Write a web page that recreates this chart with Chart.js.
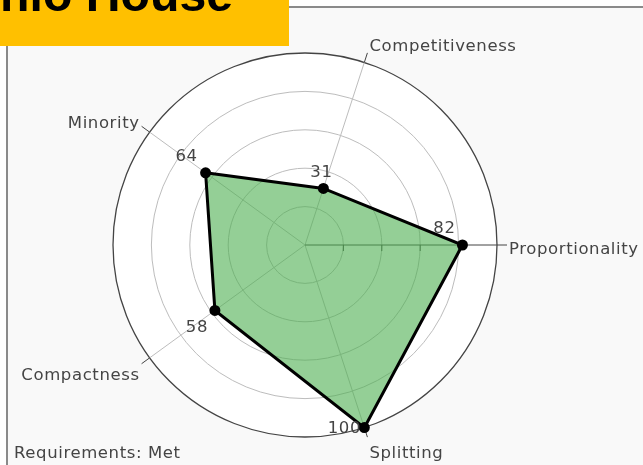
<!DOCTYPE html>
<html>
<head>
<meta charset="utf-8">
<script src="https://cdn.jsdelivr.net/npm/chart.js@4"></script>
<style>
  html, body { margin: 0; padding: 0; background: #fff; }
  #wrap { width: 643px; height: 465px; }
</style>
</head>
<body>
<div id="wrap"><canvas id="myChart" width="643" height="465"></canvas></div>
<script>
// categories listed clockwise, starting from the right-hand axis
const categories = ['Proportionality', 'Splitting', 'Compactness', 'Minority', 'Competitiveness'];
const scores = [82, 100, 58, 64, 31];
const radialTicks = [20, 40, 60, 80];
const titleText = 'Ohio House';
const footerText = 'Requirements: Met';

// where each value label sits next to its point (px)
const valueLabelShift = [[-18, -16], [-20, 1], [-18, 17], [-19, -16], [-2, -16]];

const textColor = '#444';
const labelFont = '16.5px "DejaVu Sans"';

const radarDecor = {
  id: 'radarDecor',
  beforeDraw(chart) {
    const ctx = chart.ctx;
    const r = chart.scales.r;
    ctx.save();
    // frame
    ctx.fillStyle = '#f9f9f9';
    ctx.fillRect(7, 7, chart.width - 7, chart.height - 7);
    ctx.strokeStyle = '#8a8a8a';
    ctx.lineWidth = 2;
    ctx.beginPath();
    ctx.moveTo(7, chart.height);
    ctx.lineTo(7, 7);
    ctx.lineTo(chart.width, 7);
    ctx.stroke();
    // white polar background
    ctx.fillStyle = '#fff';
    ctx.beginPath();
    ctx.arc(r.xCenter, r.yCenter, r.drawingArea, 0, Math.PI * 2);
    ctx.fill();
    ctx.restore();
  },
  beforeDatasetsDraw(chart) {
    const ctx = chart.ctx;
    const r = chart.scales.r;
    ctx.save();
    ctx.strokeStyle = '#444';
    ctx.lineWidth = 1;
    // ticks on the radial axis
    radialTicks.forEach((v) => {
      const p = r.getPointPositionForValue(0, v);
      ctx.beginPath();
      ctx.moveTo(p.x, p.y);
      ctx.lineTo(p.x, p.y + 6);
      ctx.stroke();
    });
    // angular ticks across the outer circle
    categories.forEach((c, i) => {
      const a = r.getPointPosition(i, r.drawingArea);
      const b = r.getPointPosition(i, r.drawingArea + 10);
      ctx.beginPath();
      ctx.moveTo(a.x, a.y);
      ctx.lineTo(b.x, b.y);
      ctx.stroke();
    });
    ctx.restore();
  },
  afterDatasetsDraw(chart) {
    const ctx = chart.ctx;
    const r = chart.scales.r;
    ctx.save();
    ctx.fillStyle = textColor;
    ctx.font = labelFont;
    ctx.letterSpacing = '0.6px';

    // value labels
    ctx.textAlign = 'center';
    ctx.textBaseline = 'middle';
    scores.forEach((v, i) => {
      const p = r.getPointPositionForValue(i, v);
      ctx.fillText(String(v), p.x + valueLabelShift[i][0], p.y + valueLabelShift[i][1]);
    });

    // category labels
    categories.forEach((c, i) => {
      const p = r.getPointPosition(i, r.drawingArea + 10);
      const ang = Math.atan2(r.yCenter - p.y, p.x - r.xCenter);
      const cs = Math.cos(ang), sn = Math.sin(ang);
      let dx = 0;
      if (cs > 0.2) { ctx.textAlign = 'left'; dx = 2; }
      else if (cs < -0.2) { ctx.textAlign = 'right'; dx = -2; }
      else ctx.textAlign = 'center';
      ctx.fillText(c, p.x + dx, p.y - sn * 12 + 5);
    });

    // footer
    ctx.textAlign = 'left';
    ctx.fillText(footerText, 14, 454);

    // title badge
    ctx.letterSpacing = '0px';
    ctx.fillStyle = '#ffc000';
    ctx.fillRect(0, 0, 289, 46);
    ctx.fillStyle = '#000';
    ctx.font = 'bold 50px "Liberation Sans"';
    const w = ctx.measureText('nio House').width;
    const size = 50 * 233 / w;
    ctx.font = 'bold ' + size.toFixed(1) + 'px "Liberation Sans"';
    const full = ctx.measureText(titleText).width;
    ctx.textBaseline = 'alphabetic';
    ctx.fillText(titleText, 233 - full, 11);
    ctx.restore();
  }
};

const data = {
  labels: categories,
  datasets: [
    {
      label: 'Scores',
      data: scores,
      backgroundColor: 'rgba(76, 175, 80, 0.6)',
      borderColor: '#000',
      borderWidth: 3,
      pointRadius: 4,
      pointBackgroundColor: '#000',
      pointBorderColor: '#000',
      fill: true
    }
  ]
};

const config = {
  type: 'radar',
  data: data,
  options: {
    responsive: false,
    animation: false,
    layout: { padding: { left: 113, right: 146, top: 53, bottom: 28 } },
    plugins: {
      legend: { display: false },
      tooltip: { enabled: false }
    },
    scales: {
      r: {
        min: 0,
        max: 100,
        startAngle: 90,
        ticks: { display: false, stepSize: 20 },
        pointLabels: { display: false },
        grid: {
          circular: true,
          lineWidth: (c) => (c.tick && c.tick.value === 100 ? 1.3 : 1),
          color: (c) => (c.tick && c.tick.value === 100 ? '#444' : '#bdbdbd')
        },
        angleLines: {
          lineWidth: 1,
          color: (c) => (c.index === 0 ? '#444' : '#bdbdbd')
        }
      }
    }
  },
  plugins: [radarDecor]
};

const myChart = new Chart(document.getElementById('myChart'), config);
</script>
</body>
</html>
